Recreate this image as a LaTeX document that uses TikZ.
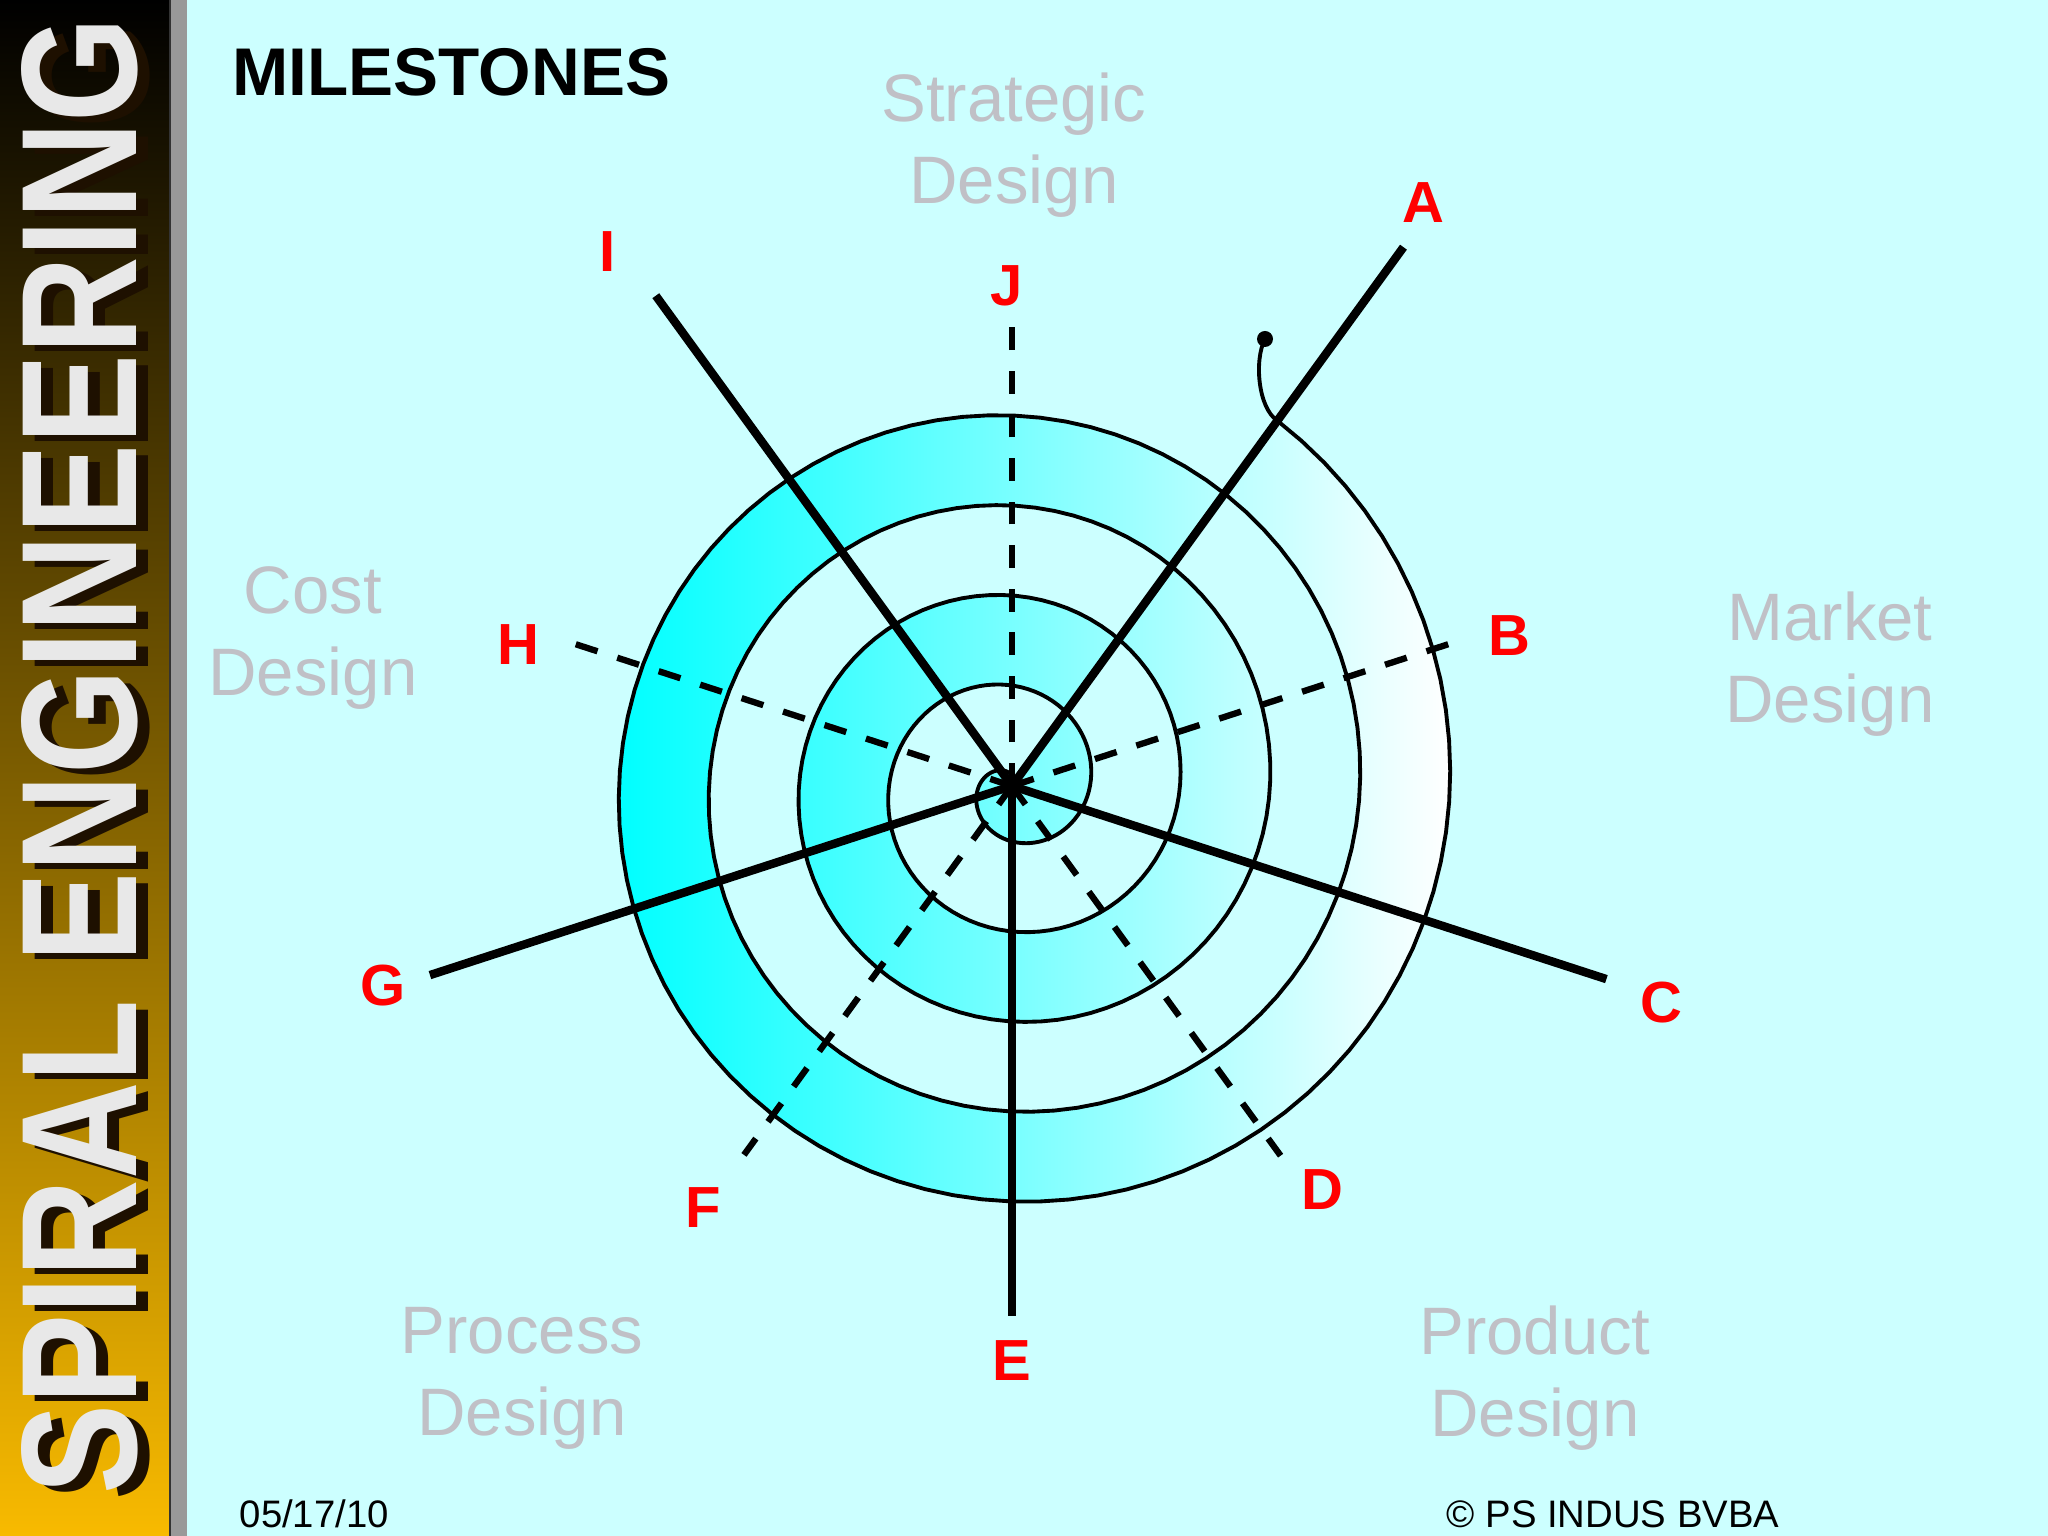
\documentclass[tikz,border=0pt]{standalone}
\usepackage{fontspec}
\setmainfont{Liberation Sans}
\usepackage{tikz}
\usetikzlibrary{calc}
\definecolor{bgcyan}{RGB}{204,255,255}
\definecolor{labelgray}{RGB}{192,192,198}
\definecolor{bargold}{RGB}{248,186,0}
\definecolor{barshadow}{RGB}{30,16,0}
\definecolor{marble}{RGB}{232,232,232}
\newcommand{\solidray}[3]{ \coordinate (#1) at ( #2 : #3 ); \draw[line width=2.4pt] (O) -- (#1);}
\newcommand{\dashray}[3]{ \coordinate (#1) at ( #2 : #3 ); \draw[line width=1.8pt, dash pattern=on 6.5pt off 5.9pt] (O) -- (#1);}
\newcommand{\msnode}[4]{\node[text=red, font=\fontsize{16.5}{20}\selectfont\bfseries, inner sep=0pt] (#1) at ( #2 , #3 ) {#4};}
\newcommand{\phasenode}[4]{\node[text=labelgray, font=\fontsize{19.1}{23.3}\selectfont, align=center, inner sep=0pt] (#1) at ( #2 , #3 ) {#4};}

\begin{document}
\begin{tikzpicture}
            \useasboundingbox (0,0) rectangle (20.48,15.36);
            \fill[bgcyan] (0,0) rectangle (20.48,15.36);

            % side bar
            \shade[top color=black, bottom color=bargold] (0,0) rectangle (1.70,15.36);
            \fill[black!40] (1.70,0) rectangle (1.87,15.36);
            \draw[black!80, line width=0.6pt] (1.70,0) -- (1.70,15.36);
            \node[rotate=90, inner sep=0pt, text=barshadow] (titleshadow) at (0.915, 7.74) {\resizebox{14.77cm}{1.15cm}{\bfseries SPIRAL ENGINEERING}};
            \node[rotate=90, inner sep=0pt, text=marble] (title) at (0.795, 7.80) {\resizebox{14.77cm}{1.15cm}{\bfseries SPIRAL ENGINEERING}};

            % heading
            \node[anchor=base west, inner sep=0pt, font=\fontsize{19.2}{23}\selectfont\bfseries] (heading) at (2.32, 14.40) {MILESTONES};

            \begin{scope}[shift={(10.12,7.50)}]
            \coordinate (O) at (0,0);
            % shaded turns
            \shade[left color=cyan, right color=white]
                plot[domain=48:414, samples=92] (\x:{(\x-48)/400}) -- cycle
                plot[domain=774:1134, samples=91] (\x:{(\x-48)/400}) -- plot[domain=774:414, samples=91] (\x:{(\x-48)/400}) -- cycle
                plot[domain=1494:1854, samples=91] (\x:{(\x-48)/400}) -- plot[domain=1494:1134, samples=91] (\x:{(\x-48)/400}) -- cycle;

            % spiral
            \coordinate (spiralend) at (2.53, 4.47);
            \draw[line width=1.1pt] plot[domain=48:1854, samples=452] (\x:{(\x-48)/400})
                .. controls (2.46, 3.78) and (2.42, 4.26) .. (spiralend);
            \fill (spiralend) circle (0.08);

            % dashed rays
            \dashray{tipJ}{90}{4.60}
            \dashray{tipB}{18}{4.61}
            \dashray{tipD}{306}{4.57}
            \dashray{tipF}{234}{4.56}
            \dashray{tipH}{162}{4.59}

            % solid rays
            \solidray{tipA}{54}{6.66}
            \solidray{tipC}{342}{6.25}
            \solidray{tipE}{270}{5.30}
            \solidray{tipG}{198}{6.12}
            \solidray{tipI}{126}{6.06}
            \end{scope}

            % milestones
            \msnode{lblA}{14.23}{13.33}{A}
            \msnode{lblB}{15.09}{9.00}{B}
            \msnode{lblC}{16.61}{5.33}{C}
            \msnode{lblD}{13.22}{3.46}{D}
            \msnode{lblE}{10.12}{1.75}{E}
            \msnode{lblF}{7.03}{3.28}{F}
            \msnode{lblG}{3.83}{5.50}{G}
            \msnode{lblH}{5.18}{8.91}{H}
            \msnode{lblI}{6.08}{12.84}{I}
            \msnode{lblJ}{10.07}{12.50}{J}

            % design phases
            \phasenode{strategic}{10.14}{13.91}{Strategic\\Design}
            \phasenode{market}{18.30}{8.72}{Market\\Design}
            \phasenode{cost}{3.13}{8.98}{Cost\\Design}
            \phasenode{process}{5.22}{1.58}{Process\\Design}
            \phasenode{product}{15.35}{1.58}{Product\\Design}

            % footer
            \node[anchor=base west, inner sep=0pt, font=\fontsize{10.9}{13}\selectfont] (date) at (2.39, 0.08) {05/17/10};
            \node[anchor=base west, inner sep=0pt, font=\fontsize{10.9}{13}\selectfont] (copyright) at (14.46, 0.08) {© PS INDUS BVBA};
\end{tikzpicture}
\end{document}
